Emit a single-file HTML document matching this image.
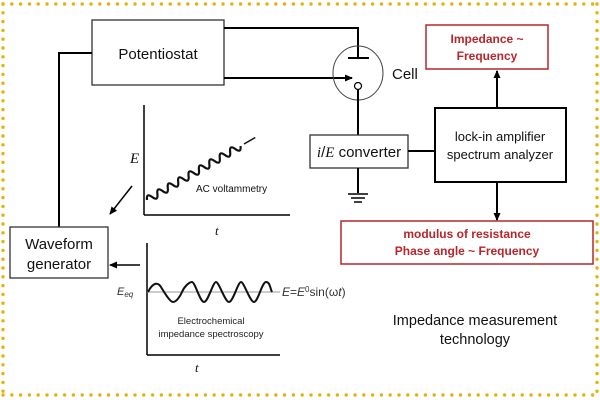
<!DOCTYPE html>
<html><head><meta charset="utf-8"><style>
body{margin:0;background:#fff}
svg{display:block;font-family:"Liberation Sans",sans-serif}
</style></head><body>
<svg width="600" height="400" viewBox="0 0 600 400">
<defs>
<marker id="ah" markerWidth="8" markerHeight="8" refX="7" refY="4" orient="auto" markerUnits="userSpaceOnUse"><path d="M0,0.5 L8,4 L0,7.5 Z" fill="#000"/></marker>
</defs>
<g fill="none" stroke="#e8b10a" stroke-width="3.4" stroke-linecap="round" stroke-dasharray="0 8.8">
<line x1="3" y1="4" x2="597" y2="4"/>
<line x1="3" y1="395" x2="597" y2="395"/>
<line x1="3" y1="4" x2="3" y2="395"/>
<line x1="597" y1="4" x2="597" y2="395"/>
</g>
<g stroke="#000" stroke-width="2" fill="none">
<rect x="92" y="20" width="132" height="65" stroke-width="1.3" stroke="#333"/>
<polyline points="92,53 59,53 59,227"/>
<rect x="10" y="227" width="98" height="51" stroke-width="1.3" stroke="#333"/>
<polyline points="224,28 358,28 358,58"/>
<line x1="348" y1="58" x2="369" y2="58"/>
<line x1="224" y1="78" x2="352" y2="78" marker-end="url(#ah)"/>
<ellipse cx="358" cy="73" rx="25" ry="27" stroke-width="1" stroke="#444"/>
<circle cx="358" cy="86" r="3.5" stroke-width="1.2"/>
<line x1="358" y1="90" x2="358" y2="135"/>
<rect x="310" y="135" width="98" height="33" stroke-width="1.3" stroke="#333"/>
<line x1="408" y1="151" x2="435" y2="151"/>
<line x1="358" y1="168" x2="358" y2="193"/>
<line x1="348" y1="194" x2="368" y2="194" stroke-width="1.5"/>
<line x1="351" y1="198" x2="365" y2="198" stroke-width="1.5"/>
<line x1="354" y1="202" x2="362" y2="202" stroke-width="1.5"/>
<rect x="435" y="108" width="131" height="74"/>
<line x1="497" y1="108" x2="497" y2="71" marker-end="url(#ah)"/>
<line x1="497" y1="182" x2="497" y2="220" marker-end="url(#ah)"/>
<line x1="144" y1="105" x2="144" y2="215" stroke-width="1.5"/>
<line x1="144" y1="215" x2="290" y2="215" stroke-width="1.5"/>
<line x1="132" y1="186" x2="110" y2="214" stroke-width="1.5" marker-end="url(#ah)"/>
<line x1="147" y1="243" x2="147" y2="355" stroke-width="1.5"/>
<line x1="147" y1="355" x2="280" y2="355" stroke-width="1.5"/>
<line x1="140" y1="265" x2="110" y2="265" stroke-width="1.5" marker-end="url(#ah)"/>
</g>
<rect x="426" y="25" width="122" height="44" fill="none" stroke="#b8262b" stroke-width="1.5"/>
<rect x="341" y="221" width="252" height="43" fill="none" stroke="#b8262b" stroke-width="1.5"/>
<line x1="147" y1="292" x2="280" y2="292" stroke="#999" stroke-width="1"/>
<path d="M148,292 C153,282 158,282 161,287 S170,302 173,302 S180,297 182,292 S189,282 192,282 S200,302 204,302 S213,282 216,282 S225,302 229,302 S238,282 241,282 S250,302 254,302 S262,282 266,282 S270,288 272,292" fill="none" stroke="#111" stroke-width="2"/>
<g fill="none" stroke="#111" stroke-width="2.2" transform="rotate(-30 147 200)">
<path d="M147,200 q3,-7 6,0 q3,7 6,0 q3,-7 6,0 q3,7 6,0 q3,-7 6,0 q3,7 6,0 q3,-7 6,0 q3,7 6,0 q3,-7 6,0 q3,7 6,0 q3,-7 6,0 q3,7 6,0 q3,-7 6,0 q3,7 6,0 q3,-7 6,0 q3,7 6,0 q3,-7 6,0 q3,7 6,0"/>
<line x1="259" y1="200" x2="272" y2="200" stroke-width="1.5"/>
</g>
<g fill="#111">
<text x="158" y="59" font-size="15" text-anchor="middle">Potentiostat</text>
<text x="59" y="249" font-size="15" text-anchor="middle">Waveform</text>
<text x="59" y="269" font-size="15" text-anchor="middle">generator</text>
<text x="392" y="79" font-size="15">Cell</text>
<text x="359" y="157" font-size="15" text-anchor="middle"><tspan font-family="Liberation Serif" font-style="italic">i</tspan>/<tspan font-family="Liberation Serif" font-style="italic">E</tspan> converter</text>
<text x="500" y="141" font-size="13" text-anchor="middle">lock-in amplifier</text>
<text x="500" y="159" font-size="13" text-anchor="middle">spectrum analyzer</text>
<text x="487" y="43" font-size="12" text-anchor="middle" fill="#b8262b" font-weight="bold">Impedance ~</text>
<text x="487" y="60" font-size="12" text-anchor="middle" fill="#b8262b" font-weight="bold">Frequency</text>
<text x="467" y="238" font-size="12" text-anchor="middle" fill="#b8262b" font-weight="bold">modulus of resistance</text>
<text x="467" y="255" font-size="12" text-anchor="middle" fill="#b8262b" font-weight="bold">Phase angle ~ Frequency</text>
<text x="475" y="325" font-size="14.5" text-anchor="middle">Impedance measurement</text>
<text x="475" y="344" font-size="14.5" text-anchor="middle">technology</text>
<text x="130" y="163" font-size="15" font-family="Liberation Serif" font-style="italic">E</text>
<text x="215" y="235" font-size="13" font-family="Liberation Serif" font-style="italic">t</text>
<text x="196" y="192" font-size="10">AC voltammetry</text>
<text x="117" y="295" font-size="11" font-style="italic" fill="#333">E<tspan font-size="8" dy="2">eq</tspan></text>
<text x="282" y="296" font-size="12" fill="#333"><tspan font-style="italic">E</tspan>=<tspan font-style="italic">E</tspan><tspan font-size="8" dy="-4">0</tspan><tspan dy="4">sin(ω</tspan><tspan font-style="italic">t</tspan>)</text>
<text x="211" y="324" font-size="9.5" text-anchor="middle" fill="#222">Electrochemical</text>
<text x="211" y="337" font-size="9.5" text-anchor="middle" fill="#222">impedance spectroscopy</text>
<text x="195" y="372" font-size="13" font-family="Liberation Serif" font-style="italic">t</text>
</g>
</svg>
</body></html>
